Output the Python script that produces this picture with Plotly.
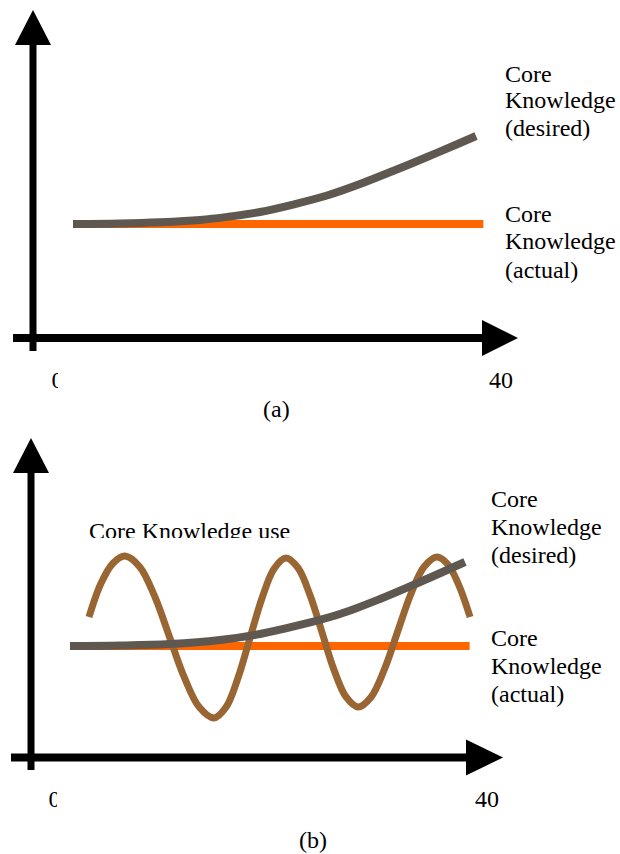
import plotly.graph_objects as go

W, H = 620, 854

# ---------------- data (arbitrary units) ----------------
# panel (a)
a_actual_x = [1.4, 38.4]
a_actual_y = [38.0, 38.0]
a_desired_x = [1.40, 5.64, 9.24, 12.85, 15.55, 18.26, 21.24, 24.30, 27.28, 30.25, 33.32, 36.29, 37.74]
a_desired_y = [38.0, 38.17, 38.57, 39.33, 40.5, 42.0, 44.5, 47.5, 51.33, 55.67, 60.33, 65.0, 67.33]

# panel (b)
b_actual_x = [1.5, 38.4]
b_actual_y = [37.17, 37.17]
b_desired_x = [1.43, 6.06, 10.68, 15.31, 19.01, 22.71, 26.41, 30.11, 33.81, 37.97]
b_desired_y = [37.17, 37.33, 37.83, 39.17, 41.17, 44.17, 47.83, 52.83, 58.5, 65.17]
b_use_x = [3.19, 4.30, 5.41, 6.52, 7.89, 9.27, 10.64, 12.01, 13.38, 14.75,
           15.86, 16.97, 18.08, 19.20, 20.31, 21.42, 22.53, 23.64, 24.75, 25.85,
           26.97, 28.08, 29.29, 30.51, 31.73, 32.95, 34.17, 35.38, 36.40, 37.42, 38.44]
b_use_y = [46.83, 58.07, 64.77, 67.17, 63.53, 53.67, 40.17, 26.67, 16.8, 13.17,
           16.73, 26.5, 39.83, 53.17, 62.93, 66.5, 63.17, 54.08, 41.67, 29.25,
           20.17, 16.83, 20.17, 29.33, 41.83, 54.33, 63.5, 66.83, 64.33, 57.27, 46.83]

tick_vals = [0, 40]
tick_text = ["0", "40"]

desired_lines = ["Core", "Knowledge", "(desired)"]
actual_lines = ["Core", "Knowledge", "(actual)"]
label_use = "Core Knowledge use"
use_label_pos = (3.19, 74.8)
captions = ["(a)", "(b)"]

ORANGE = "#FF6600"
GRAY = "#5E5850"
BROWN = "#996633"
FONT = "Liberation Serif, Times New Roman, serif"
FS = 24


def px(xp):
    return xp / W


def py(yp):
    return 1 - yp / H


fig = go.Figure()

# panel (a)
fig.add_trace(go.Scatter(x=a_actual_x, y=a_actual_y, mode="lines",
                         line=dict(color=ORANGE, width=8), xaxis="x", yaxis="y"))
fig.add_trace(go.Scatter(x=a_desired_x, y=a_desired_y, mode="lines",
                         line=dict(color=GRAY, width=8, shape="spline"), xaxis="x", yaxis="y"))
# panel (b)
fig.add_trace(go.Scatter(x=b_actual_x, y=b_actual_y, mode="lines",
                         line=dict(color=ORANGE, width=8), xaxis="x2", yaxis="y2"))
fig.add_trace(go.Scatter(x=b_use_x, y=b_use_y, mode="lines",
                         line=dict(color=BROWN, width=7, shape="spline"),
                         xaxis="x2", yaxis="y2"))
fig.add_trace(go.Scatter(x=b_desired_x, y=b_desired_y, mode="lines",
                         line=dict(color=GRAY, width=8, shape="spline"), xaxis="x2", yaxis="y2"))
fig.add_trace(go.Scatter(x=[use_label_pos[0]], y=[use_label_pos[1]], mode="text",
                         text=[label_use], textposition="middle right",
                         textfont=dict(family=FONT, size=FS, color="black"),
                         xaxis="x2", yaxis="y2", cliponaxis=False))

axis_common = dict(showgrid=False, zeroline=False, showline=False, ticks="",
                   tickfont=dict(family=FONT, size=FS, color="black"))

fig.update_layout(
    width=W, height=H,
    margin=dict(l=0, r=0, t=0, b=0),
    paper_bgcolor="white", plot_bgcolor="rgba(0,0,0,0)",
    showlegend=False,
    xaxis=dict(domain=[0, 1], range=[-5.185, 50.72], anchor="y",
               tickvals=tick_vals, ticktext=tick_text, **axis_common),
    yaxis=dict(domain=[py(363), 1], range=[-8.33, 112.67], anchor="x",
               showticklabels=False, **axis_common),
    xaxis2=dict(domain=[0, 1], range=[-5.042, 52.31], anchor="y2",
                tickvals=tick_vals, ticktext=tick_text, **axis_common),
    yaxis2=dict(domain=[py(782), py(425)], range=[-8.17, 110.83], anchor="x2",
                showticklabels=False, **axis_common),
)

shapes = []


def axis_arrows(yx, yy_top, yy_bot, yw_half, xy, xx_left, xx_tip, xh_len, xw_half, ya_len):
    shapes.append(dict(type="line", xref="paper", yref="paper",
                       x0=px(yx), x1=px(yx), y0=py(yy_bot), y1=py(yy_top + ya_len - 2),
                       line=dict(color="black", width=7)))
    shapes.append(dict(type="path", xref="paper", yref="paper",
                       path=f"M {px(yx)} {py(yy_top)} L {px(yx - yw_half)} {py(yy_top + ya_len)} "
                            f"L {px(yx + yw_half)} {py(yy_top + ya_len)} Z",
                       fillcolor="black", line=dict(width=0)))
    shapes.append(dict(type="line", xref="paper", yref="paper",
                       x0=px(xx_left), x1=px(xx_tip - xh_len + 2), y0=py(xy), y1=py(xy),
                       line=dict(color="black", width=8)))
    shapes.append(dict(type="path", xref="paper", yref="paper",
                       path=f"M {px(xx_tip)} {py(xy)} L {px(xx_tip - xh_len)} {py(xy - xw_half)} "
                            f"L {px(xx_tip - xh_len)} {py(xy + xw_half)} Z",
                       fillcolor="black", line=dict(width=0)))


axis_arrows(33, 10, 351, 18, 338, 13, 518, 36, 18, 35)
axis_arrows(31, 438, 770, 18, 757.5, 11, 503, 37, 18, 35)

# white boxes that clip the labels the way the reference does
for (x0, x1, y0, y1) in [(58, 75, 365, 400), (30, 120, 389, 400), (440, 560, 389, 400),
                         (57, 75, 785, 820), (30, 120, 807, 820), (440, 560, 807, 820),
                         (80, 310, 538, 548)]:
    shapes.append(dict(type="rect", xref="paper", yref="paper", layer="above",
                       x0=px(x0), x1=px(x1), y0=py(y1), y1=py(y0),
                       fillcolor="white", line=dict(width=0)))

fig.update_layout(shapes=shapes)

ann_font = dict(family=FONT, size=FS, color="black")
anns = []
for lines, xl, ys in [(desired_lines, 503, [74, 100, 128]),
                      (actual_lines, 503, [214, 241, 270]),
                      (desired_lines, 489, [499, 527, 555]),
                      (actual_lines, 489, [638, 666, 694])]:
    for t, yy in zip(lines, ys):
        anns.append(dict(text=t, x=px(xl), y=py(yy), xanchor="left", yanchor="middle"))
anns.append(dict(text=captions[0], x=px(276), y=py(409), xanchor="center", yanchor="middle"))
anns.append(dict(text=captions[1], x=px(313), y=py(840), xanchor="center", yanchor="middle"))
for a in anns:
    a.update(xref="paper", yref="paper", showarrow=False, font=ann_font)
fig.update_layout(annotations=anns)

fig.write_html("out.html",
               config={"displayModeBar": False},
               post_script="document.body.style.margin='0';document.body.style.overflow='hidden';")
